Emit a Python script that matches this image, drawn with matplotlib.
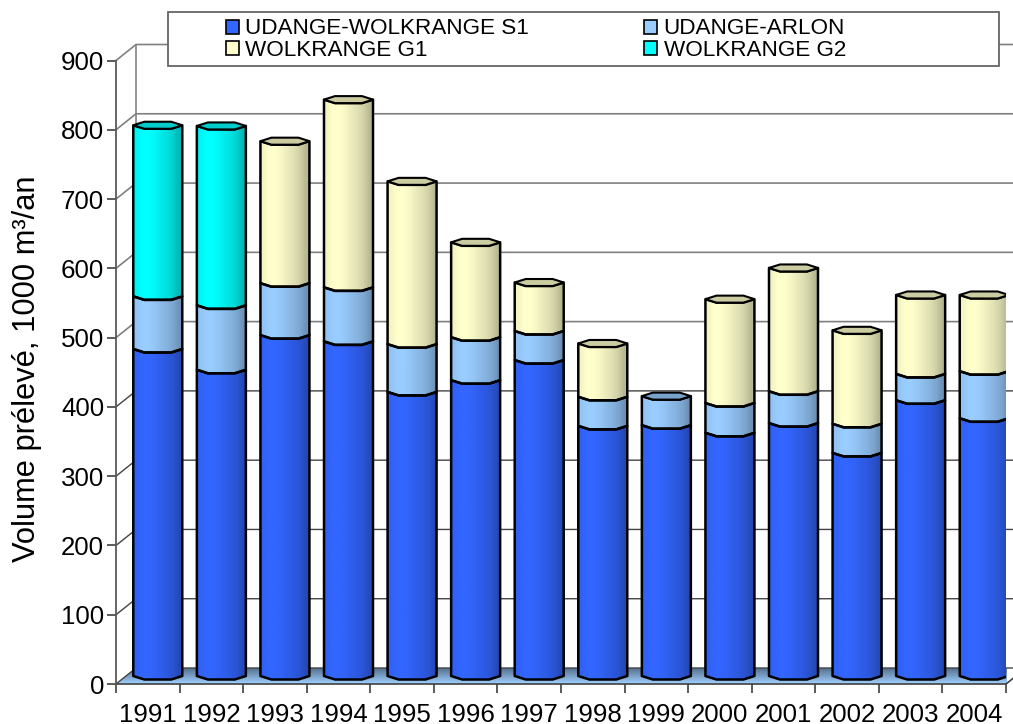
import numpy as np
import matplotlib
matplotlib.use("Agg")
import matplotlib.pyplot as plt
from matplotlib.patches import Polygon, Patch, Rectangle
from matplotlib.colors import to_rgb

plt.rcParams['font.family'] = ['Liberation Sans', 'DejaVu Sans']

years = ['1991','1992','1993','1994','1995','1996','1997','1998','1999','2000','2001','2002','2003','2004']
s1     = [472, 442, 492, 483, 410, 427, 456, 361, 362, 351, 365, 322, 398, 372]
arlon  = [76, 93, 75, 78, 69, 62, 42, 42, 42, 43, 46, 42, 38, 68]
g1     = [0, 0, 205, 271, 235, 137, 70, 77, 0, 150, 178, 135, 114, 110]
g2     = [247, 259, 0, 0, 0, 0, 0, 0, 0, 0, 0, 0, 0, 0]
series = [('UDANGE-WOLKRANGE S1', s1, '#3366ff'),
          ('UDANGE-ARLON', arlon, '#99ccff'),
          ('WOLKRANGE G1', g1, '#ffffcc'),
          ('WOLKRANGE G2', g2, '#00ffff')]
yticks = list(range(0, 1000, 100))

W, H = 1013, 724
L, R, B, T = 116, 1006, 684, 60.5
fig = plt.figure(figsize=(W/100, H/100), dpi=100, facecolor='white')
ax = fig.add_axes([L/W, 1-B/H, (R-L)/W, (B-T)/H])
n = len(years)
ax.set_xlim(-0.5, n-0.5)
ax.set_ylim(0, 900)
px_x = (R-L)/n
px_y = (B-T)/900
DX, DY = 20/px_x, 16/px_y      # depth of the pseudo-3D box
HW = 24.5/px_x                 # half width of a bar
EH = 3.5/px_y                  # half height of a cap
ax.patch.set_visible(False)

# floor with vertical gradient
xl, xr = -0.5, n-0.5
floor = Polygon([(xl, 0), (xr, 0), (xr+DX, DY), (xl+DX, DY)], closed=True,
                transform=ax.transData, fc='none', ec='none')
ax.add_patch(floor)
c_top, c_bot = np.array(to_rgb('#56718f')), np.array(to_rgb('#9fd0ff'))
t = np.linspace(0, 1, 32)[:, None, None]
grad = c_top[None, None, :]*(1-t) + c_bot[None, None, :]*t
im = ax.imshow(grad, extent=(xl, xr+DX, 0, DY), aspect='auto', origin='upper',
               interpolation='bilinear', zorder=1)
im.set_clip_path(floor)
floor.set_clip_on(False)
im.set_clip_on(True)
im.set_clip_box(None)
ax.plot([xl, xr, xr+DX], [0, 0, DY], color='#404040', lw=1.2, zorder=2, clip_on=False)

# walls and grid
ax.plot([xl+DX, xl+DX], [DY, 900+DY], color='#8c8c8c', lw=1.3, zorder=1, clip_on=False)
for v in yticks:
    col = '#808080' if v >= 500 else '#444444'
    ax.plot([xl, xl+DX, xr+DX], [v, v+DY, v+DY], color=col, lw=1.2 if v >= 500 else 1.0,
            zorder=1, clip_on=False)

shade = np.array([0.96, 1.0, 1.0, 0.97, 0.92, 0.88, 0.82, 0.72])


def front_edge(x, y, sign=-1):
    return [(x-HW, y), (x-0.55*HW, y+sign*EH), (x+0.55*HW, y+sign*EH), (x+HW, y)]


for i in range(n):
    xc = i + DX/2
    base = DY/2
    for name, vals, col in series:
        v = vals[i]
        if v == 0:
            continue
        top = base + v
        pts = front_edge(xc, base) + front_edge(xc, top)[::-1]
        poly = Polygon(pts, closed=True, fc='none', ec='black', lw=1.8, zorder=5, joinstyle='round')
        ax.add_patch(poly)
        rgb = np.array(to_rgb(col))
        img = (rgb[None, None, :]*shade[None, :, None])
        bar_im = ax.imshow(img, extent=(xc-HW, xc+HW, base-EH, top+EH), aspect='auto',
                           interpolation='bilinear', zorder=4)
        bar_im.set_clip_path(poly)
        base = top
    cap_col = np.array(to_rgb([c for _, vv, c in series if vv[i] > 0][-1]))*0.8
    cap = [(xc-HW, base), (xc-0.55*HW, base+EH), (xc+0.55*HW, base+EH), (xc+HW, base),
           (xc+0.55*HW, base-EH), (xc-0.55*HW, base-EH)]
    ax.add_patch(Polygon(cap, closed=True, fc=cap_col, ec='black', lw=1.5, zorder=6))

ax.set_xlim(-0.5, n-0.5)
ax.set_ylim(0, 900)

# axes
for s in ['top', 'right', 'bottom']:
    ax.spines[s].set_visible(False)
ax.spines['left'].set_color('#595959')
ax.spines['left'].set_linewidth(1.3)
ax.set_yticks(yticks)
ax.tick_params(axis='y', length=6.5, width=1.2, color='#404040', labelsize=18.6, pad=2)
ax.set_xticks(np.arange(n+1)-0.5)
ax.set_xticklabels([])
ax.set_xticks(np.arange(n), labels=years, minor=True)
ax.tick_params(axis='x', which='major', length=6.5, width=1.2, color='#404040')
ax.tick_params(axis='x', which='minor', length=0, labelsize=18.6, pad=13.5)
fig.text(27/W, 1-369/H, 'Volume prélevé, 1000 m³/an', rotation=90, fontsize=22.2,
         ha='center', va='center', color='black')

# legend
fig.add_artist(Rectangle((168/W, 1-66/H), 831/W, 54/H, transform=fig.transFigure,
                         fc='white', ec='#666666', lw=1.3, zorder=8))
handles = [Patch(fc=c, ec='black', lw=1.2, label=nm) for nm, _, c in series]
order = [handles[0], handles[2], handles[1], handles[3]]
leg = fig.legend(handles=order, ncol=2, frameon=False, loc='upper left',
                 bbox_to_anchor=(221/W, 1-14/H), bbox_transform=fig.transFigure,
                 fontsize=16.2, borderaxespad=0, borderpad=0.2, handlelength=0.58,
                 handleheight=0.58, handletextpad=0.3, columnspacing=5.1, labelspacing=0.02)
leg.set_zorder(9)

fig.savefig('out.png', dpi=100, facecolor='white')
